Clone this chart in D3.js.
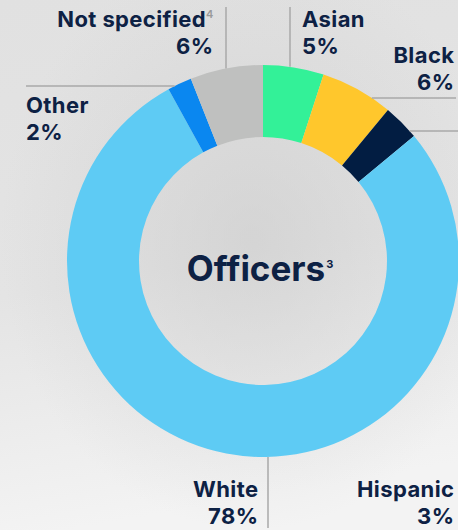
<!DOCTYPE html>
<html>
<head>
<meta charset="utf-8">
<script src="https://cdn.jsdelivr.net/npm/d3@7/dist/d3.min.js"></script>
<style>
html,body{margin:0;padding:0;overflow:hidden;}
svg{display:block;}
text{font-family:Inter, "DejaVu Sans", sans-serif;font-weight:700;fill:#0d2144;}
</style>
</head>
<body>
<svg id="chart" width="458" height="530"></svg>
<script>
// ---- data ----
const categories = ["Asian", "Black", "Hispanic", "White", "Other", "Not specified"];
const values = [5, 6, 3, 78, 2, 6];
const valueLabels = ["5%", "6%", "3%", "78%", "2%", "6%"];
const footnotes = ["", "", "", "", "", "4"];
const colors = ["#33f198", "#ffc72c", "#021d42", "#5ecbf4", "#0a87f0", "#bfc0bf"];
const title = "Officers";
const titleNote = "3";

const W = 458, H = 530;
const cx = 263, cy = 261, rOuter = 196, rInner = 124;

const svg = d3.select("#chart");
const defs = svg.append("defs");
const lg = defs.append("linearGradient").attr("id","bg").attr("x1",0).attr("y1",0).attr("x2",0.15).attr("y2",1);
lg.append("stop").attr("offset","0%").attr("stop-color","#e1e1e1");
lg.append("stop").attr("offset","55%").attr("stop-color","#e4e4e4");
lg.append("stop").attr("offset","100%").attr("stop-color","#f3f3f3");
const rg = defs.append("radialGradient").attr("id","glow").attr("cx",0.55).attr("cy",0.45).attr("r",0.55);
rg.append("stop").attr("offset","0%").attr("stop-color","#c8c8c8").attr("stop-opacity",0.55);
rg.append("stop").attr("offset","100%").attr("stop-color","#c8c8c8").attr("stop-opacity",0);
svg.append("rect").attr("width",W).attr("height",H).attr("fill","url(#bg)");
svg.append("rect").attr("width",W).attr("height",H).attr("fill","url(#glow)");

const data = categories.map((c,i)=>({cat:c, value:values[i], label:valueLabels[i], note:footnotes[i], color:colors[i]}));
const pie = d3.pie().value(d=>d.value).sort(null);
const arc = d3.arc().innerRadius(rInner).outerRadius(rOuter);
const arcs = pie(data);

const g = svg.append("g").attr("transform",`translate(${cx},${cy})`);
g.selectAll("path").data(arcs).join("path").attr("d",arc).attr("fill",d=>d.data.color);

// leader lines & labels layout (per category)
const layout = {
  "Asian":        {line:"v", x:290, y1:7, anchor:"start", tx:302, ty:27},
  "Black":        {line:"h", y:98, x2:456, anchor:"end", tx:454, ty:63},
  "Hispanic":     {line:"h", y:131, x2:458, anchor:"end", tx:454, ty:497},
  "White":        {line:"v", x:268, y1:528, anchor:"end", tx:258, ty:497},
  "Other":        {line:"h", y:86, x2:26, anchor:"start", tx:26, ty:113},
  "Not specified":{line:"v", x:226, y1:7, anchor:"end", tx:213, ty:27}
};
const lineG = svg.append("g").attr("stroke","#a9a9a9").attr("stroke-width",1.5);
function edgeY(x, top){ const dx=x-cx; const dy=Math.sqrt(rOuter*rOuter-dx*dx); return top? cy-dy : cy+dy; }
function edgeX(y, right){ const dy=y-cy; const dx=Math.sqrt(rOuter*rOuter-dy*dy); return right? cx+dx : cx-dx; }
const LS = 0.4;
data.forEach(d=>{
  const L = layout[d.cat];
  if(L.line==="v"){
    const top = L.y1 < cy;
    lineG.append("line").attr("x1",L.x).attr("x2",L.x).attr("y1",L.y1).attr("y2",edgeY(L.x, top));
  } else {
    const right = L.x2 > cx;
    lineG.append("line").attr("y1",L.y).attr("y2",L.y).attr("x1",edgeX(L.y,right)).attr("x2",L.x2);
  }
  const endShift = L.anchor==="end" ? LS : 0;
  const t = svg.append("text").attr("x",L.tx+endShift).attr("y",L.ty).attr("text-anchor",L.anchor)
    .style("font-size","22px").style("letter-spacing",LS+"px");
  t.append("tspan").text(d.cat);
  if(d.note) t.append("tspan").text(d.note).attr("dy",-9).style("font-size","11px").style("fill","#9a9a9a").style("font-weight",600).style("letter-spacing","0px");
  svg.append("text").attr("x",L.tx+endShift).attr("y",L.ty+27).attr("text-anchor",L.anchor)
    .style("font-size","22px").style("letter-spacing",LS+"px").text(d.label);
});

const tt = svg.append("text").attr("x",cx-3).attr("y",281).attr("text-anchor","middle").style("font-size","35px");
tt.append("tspan").text(title);
tt.append("tspan").text(titleNote).attr("dx",1).attr("dy",-13).style("font-size","11px");
</script>
</body>
</html>
